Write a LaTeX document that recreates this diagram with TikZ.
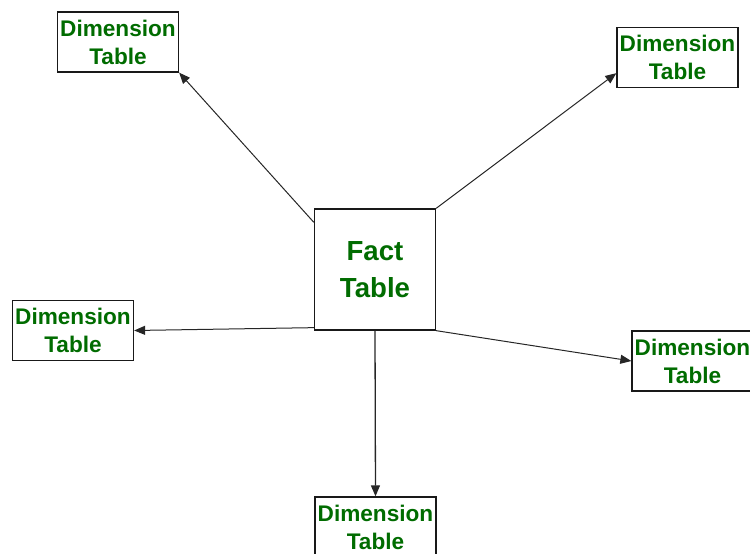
\documentclass[tikz,border=0pt]{standalone}
\usepackage{fontspec}
\setmainfont{Liberation Sans}
\usetikzlibrary{arrows.meta,calc}
\definecolor{dimgreen}{RGB}{0,108,0}
\begin{document}
\begin{tikzpicture}[x=1pt,y=-1pt,
  box/.style={draw=black!90, line width=1.3pt, fill=white, align=center,
    text=dimgreen, inner sep=0pt, minimum width=121pt, minimum height=60pt,
    font=\bfseries\fontsize{22.6}{28}\selectfont},
  factbox/.style={box, minimum height=121pt,
    font=\bfseries\fontsize{27.6}{37}\selectfont},
  link/.style={line width=1pt, draw=black!85, -{Triangle[length=11pt,width=9pt]}}]
\useasboundingbox (0,0) rectangle (750,554);
\node[factbox] (fact) at (375,269.5) {Fact\\Table};
\node[box] (tl) at (118,42) {Dimension\\Table};
\node[box] (tr) at (677.5,57.5) {Dimension\\Table};
\node[box] (l) at (73,330.5) {Dimension\\Table};
\node[box] (r) at (692.5,361) {Dimension\\Table};
\node[box] (b) at (375.5,527) {Dimension\\Table};
\draw[link] ($(fact.north west)+(0,14)$) -- (tl.south east);
\draw[link] (fact.north east) -- ($(tr.south west)+(0,-15)$);
\draw[link] ($(fact.south west)+(0,-3)$) -- (l.east);
\draw[link] (fact.south east) -- (r.west);
\draw[link, line width=1.3pt] (fact.south) -- (b.north);
\end{tikzpicture}
\end{document}
